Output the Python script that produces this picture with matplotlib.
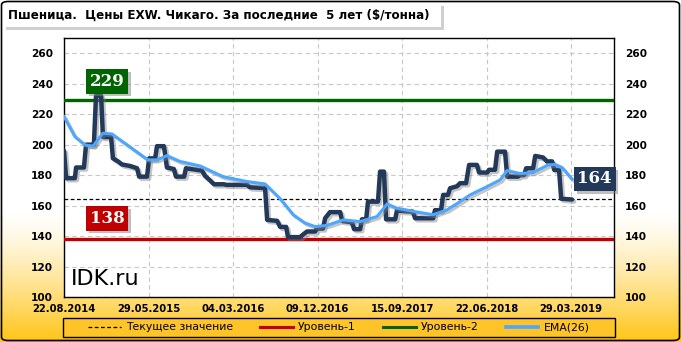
import datetime as dt
import numpy as np
import matplotlib
matplotlib.use("Agg")
import matplotlib.pyplot as plt
import matplotlib.dates as mdates
import matplotlib.patheffects as pe
import matplotlib.transforms as mtransforms
from matplotlib.patches import FancyBboxPatch, Rectangle
from matplotlib.lines import Line2D

# data: days counted from the first observation (22.08.2014)
start = dt.date(2014, 8, 22)
price_days = [0, 7, 36, 40, 66, 73, 99, 106, 123, 129, 156, 162, 179, 192, 219,
              242, 249, 275, 282, 302, 308, 331, 341, 364, 371, 398, 404, 457,
              467, 484, 497, 530, 537, 606, 616, 666, 673, 706, 716, 736, 742,
              782, 792, 805, 832, 838, 858, 865, 881, 915, 921, 954, 961, 981,
              987, 1001, 1007, 1040, 1047, 1060, 1067, 1097, 1103, 1156, 1163,
              1223, 1229, 1249, 1256, 1272, 1279, 1302, 1312, 1332, 1342, 1368,
              1375, 1402, 1408, 1428, 1435, 1461, 1468, 1504, 1511, 1524, 1531,
              1554, 1561, 1587, 1600, 1617, 1624, 1640, 1647, 1683]
price_vals = [196, 178, 178, 185, 185, 200, 200, 232, 232, 205, 205, 191, 189,
              187, 186, 184.5, 179, 179, 191, 191, 199, 199, 185, 184, 179, 179,
              184.5, 183, 179.5, 176.5, 174, 174, 173.6, 173.6, 172, 171.5,
              150.6, 150, 146, 146, 139.3, 139.3, 141, 143, 143, 145, 145,
              151.7, 155.7, 155.7, 150, 149, 144.5, 144.5, 151, 151, 162.6,
              162.6, 182.3, 182.3, 151, 151, 156.7, 156, 151.7, 151.7, 157,
              157, 167, 167, 171.4, 172.7, 174.7, 174.7, 186.7, 186.7, 181.7,
              181.7, 183.5, 183.5, 195.4, 195.4, 179, 179, 180, 180, 184.5,
              184.5, 192.6, 191.6, 189, 189, 183.4, 183.4, 164.5, 164]
ema_days = [0, 36, 70, 96, 129, 159, 278, 308, 341, 384, 451, 527, 606, 666,
            716, 759, 799, 832, 871, 925, 981, 1037, 1070, 1103, 1163, 1223,
            1269, 1312, 1345, 1402, 1445, 1468, 1511, 1554, 1604, 1627, 1650,
            1683]
ema_vals = [218.4, 205.3, 199.8, 199, 207.5, 207, 190, 190, 192.8, 189, 186,
            179, 175.8, 174.2, 164.5, 154, 148.5, 146.2, 147, 150.6, 149.5,
            152.8, 161, 158.3, 156, 154, 157.2, 162.6, 167, 172.5, 176.9, 183,
            181, 181.7, 186.7, 187, 185, 177.3]
level1 = 138
level2 = 229
current = 164
tick_days = [0, 280, 560, 840, 1120, 1400, 1680]
end_day = 1822

title = "Пшеница.  Цены EXW. Чикаго. За последние  5 лет ($/тонна)"
legend_labels = ["Текущее значение", "Уровень-1", "Уровень-2", "EMA(26)"]

navy = "#22395a"
blue = "#4da6ff"
green = "#006400"
red = "#c00000"


def to_dates(days):
    return [start + dt.timedelta(days=d) for d in days]


W, H = 681, 342
fig = plt.figure(figsize=(W / 100, H / 100), dpi=100)

# background: white fading to orange at the bottom
bg = fig.add_axes([0, 0, 1, 1], zorder=-10)
t = np.linspace(0, 1, H)[:, None]
w = np.clip((t - 0.62) / 0.38, 0, 1) ** 1.3
white = np.array([1.0, 1.0, 1.0])
orange = np.array([1.0, 0.77, 0.08])
img = white * (1 - w[..., None]) + orange * w[..., None]
img = np.repeat(img, 2, axis=1)
bg.imshow(img, aspect="auto", extent=[0, 1, 0, 1])
bg.set_xlim(0, 1)
bg.set_ylim(0, 1)
bg.axis("off")

# title box with shadow
fig.patches.append(FancyBboxPatch((6 / W, 1 - 30 / H), 438 / W, 24 / H,
                                  boxstyle="square,pad=0", fc="#b0b0b0",
                                  ec="none", transform=fig.transFigure,
                                  alpha=0.6, zorder=1))
fig.patches.append(FancyBboxPatch((3 / W, 1 - 27 / H), 438 / W, 24 / H,
                                  boxstyle="square,pad=0", fc="white",
                                  ec="none", transform=fig.transFigure,
                                  zorder=2))
fig.text(8 / W, 1 - 15 / H, title, fontsize=8.6, fontweight="bold",
         va="center", ha="left", zorder=3)

# main plot
ax = fig.add_axes([64 / W, 1 - 297 / H, 550 / W, 259 / H])
ax.set_facecolor("white")
ax.set_xlim(start, start + dt.timedelta(days=end_day))
ax.set_ylim(100, 270)
ax.set_yticks(np.arange(100, 261, 20))
ax.set_xticks(to_dates(tick_days))
ax.xaxis.set_major_formatter(mdates.DateFormatter("%d.%m.%Y"))
ax.grid(color="#c8c8c8", linestyle=(0, (4, 3)), linewidth=0.8)
ax.set_axisbelow(True)
ax.tick_params(length=0, labelsize=7.6, labelright=True, pad=8)
ax.tick_params(axis="x", labelsize=7.2, pad=5)
for lab in ax.get_xticklabels() + ax.get_yticklabels():
    lab.set_fontweight("bold")
for lab in ax.yaxis.get_ticklabels(which="both"):
    lab.set_fontweight("bold")
for s in ax.spines.values():
    s.set_color("black")
    s.set_linewidth(1)

shadow = [pe.SimpleLineShadow(offset=(1.5, -1.5), shadow_color="gray",
                              alpha=0.45), pe.Normal()]

ax.axhline(level2, color=green, lw=2.4, zorder=3)
ax.axhline(level1, color=red, lw=2.4, zorder=3)
ax.axhline(current, color="black", lw=0.9, ls=(0, (3, 2)), zorder=3)

ax.plot(to_dates(price_days), price_vals, color=navy, lw=3.2,
        solid_joinstyle="round", solid_capstyle="round",
        path_effects=shadow, zorder=4)
ax.plot(to_dates(ema_days), ema_vals, color=blue, lw=2.2,
        solid_joinstyle="round", path_effects=shadow, zorder=5)

# value labels
trans = mtransforms.blended_transform_factory(ax.transAxes, ax.transData)


def value_box(x, y, txt, color):
    t = ax.text(x, y, txt, transform=trans, ha="center", va="center",
                fontsize=12, fontweight="bold", family="DejaVu Serif",
                color="white", zorder=6, clip_on=False,
                bbox=dict(boxstyle="square,pad=0.22", fc=color, ec="none"))
    t.get_bbox_patch().set_path_effects(
        [pe.SimplePatchShadow(offset=(2, -2), shadow_rgbFace="gray",
                              alpha=0.5), pe.Normal()])


value_box(0.078, level2 + 12.5, str(level2), green)
value_box(0.078, level1 + 13.5, str(level1), red)
value_box(0.965, current + 13.5, str(current), navy)

ax.text(0.012, 0.03, "IDK.ru", transform=ax.transAxes, fontsize=16,
        ha="left", va="bottom", zorder=6)

# legend: frame drawn separately, entries centred inside it
fig.patches.append(Rectangle((63 / W, 1 - 337 / H), 552 / W, 19 / H,
                             fc="#ffc42a", ec="black", lw=1,
                             transform=fig.transFigure, zorder=5))
handles = [Line2D([], [], color="black", lw=0.9, ls=(0, (3, 2))),
           Line2D([], [], color=red, lw=2.2),
           Line2D([], [], color=green, lw=2.2),
           Line2D([], [], color=blue, lw=2.6)]
leg = fig.legend(handles, legend_labels, loc="center", ncol=4,
                 bbox_to_anchor=(339 / W, 1 - 327.5 / H),
                 fontsize=7.8, frameon=False, handlelength=3.0,
                 handletextpad=0.5, columnspacing=2.5, borderpad=0,
                 borderaxespad=0)
leg.set_zorder(6)

# outer border
fig.patches.append(FancyBboxPatch((1.5 / W, 1.5 / H), 1 - 3 / W, 1 - 3 / H,
                                  boxstyle="round,pad=0,rounding_size=0.01",
                                  fc="none", ec="black", lw=1.2,
                                  transform=fig.transFigure, zorder=20))

fig.savefig("out.png", dpi=100)
